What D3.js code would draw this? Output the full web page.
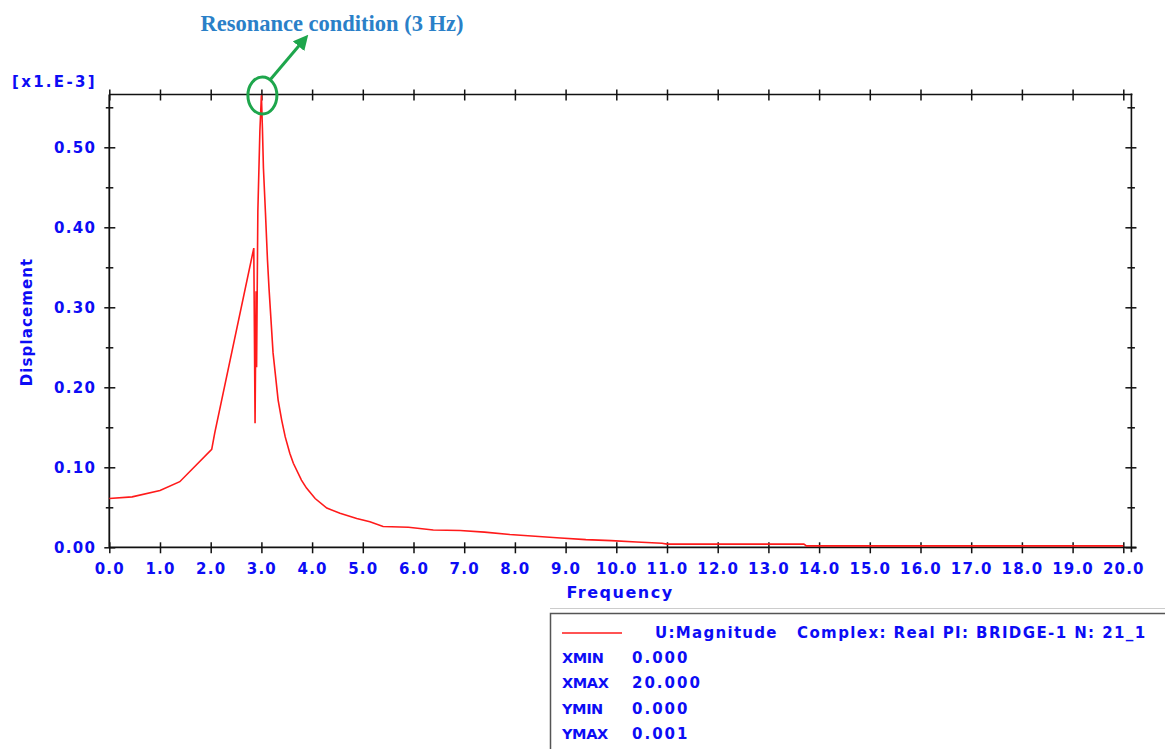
<!DOCTYPE html>
<html>
<head>
<meta charset="utf-8">
<script src="https://cdn.jsdelivr.net/npm/d3@7"></script>
<style>
  html, body { margin: 0; padding: 0; background: #ffffff; }
  svg { display: block; }
  .lbl { font-family: "DejaVu Sans", Verdana, sans-serif; font-weight: bold; fill: #0c0cf5; }
</style>
</head>
<body>
<svg id="chart" width="1165" height="749"></svg>
<script>
// ---------------- data (displacement in x1.E-3 units) ----------------
const frequency = [0, 0.45, 1.0, 1.39, 2.02, 2.08, 2.85, 2.875, 2.895, 2.905, 2.93, 2.97, 3.0,
  3.02, 3.04, 3.08, 3.12, 3.15, 3.23, 3.33, 3.40, 3.47, 3.56, 3.63, 3.79, 3.89, 4.06, 4.29, 4.55,
  4.88, 5.14, 5.40, 5.90, 6.39, 6.92, 7.4, 7.9, 8.4, 8.9, 9.4, 9.9, 10.4, 10.9, 11.0, 13.7, 13.75, 20.0];
const displacement = [0.061, 0.063, 0.071, 0.082, 0.1225, 0.143, 0.374, 0.155, 0.32, 0.225, 0.42, 0.52, 0.565,
  0.524, 0.474, 0.418, 0.359, 0.324, 0.243, 0.184, 0.159, 0.138, 0.1175, 0.105, 0.084, 0.074, 0.061, 0.049, 0.0425,
  0.036, 0.032, 0.026, 0.025, 0.0216, 0.021, 0.019, 0.016, 0.0138, 0.0117, 0.0096, 0.0083, 0.0067, 0.005, 0.004, 0.004, 0.0018, 0.0018];

const xTickValues = d3.range(0, 21, 1);
const yTickValues = [0, 0.1, 0.2, 0.3, 0.4, 0.5];
const yMinorTicks = [0.05, 0.15, 0.25, 0.35, 0.45, 0.55];

const annotationText = "Resonance condition (3 Hz)";
const yUnitText = "[x1.E-3]";
const xTitle = "Frequency";
const yTitle = "Displacement";
const seriesName = "U:Magnitude";
const seriesInfo = "Complex: Real PI: BRIDGE-1 N: 21_1";
const legendKeys = ["XMIN", "XMAX", "YMIN", "YMAX"];
const legendVals = ["0.000", "20.000", "0.000", "0.001"];
const resonanceFreq = 3.0;
const xFrameMax = 20.16;
const yFrameMax = 0.566;

// ---------------- scales ----------------
const x = d3.scaleLinear().domain([0, 20]).range([109.3, 1123.3]);
const y = d3.scaleLinear().domain([0, 0.1]).range([547.3, 467.3]);

const svg = d3.select("#chart");
const pL = x(0), pR = x(xFrameMax), pT = y(yFrameMax), pB = y(0);

// frame
const frame = svg.append("g").attr("stroke", "#111").attr("stroke-width", 1.6).attr("fill", "none");
frame.append("line").attr("x1", pL).attr("x2", pR + 1).attr("y1", pT).attr("y2", pT);
frame.append("line").attr("x1", pR).attr("x2", pR).attr("y1", pT - 1).attr("y2", pB + 5);

// bottom axis
const gx = svg.append("g").attr("transform", `translate(0,${pB})`)
  .call(d3.axisBottom(x).tickValues(xTickValues).tickSize(5).tickPadding(10).tickFormat(d3.format(".1f")));
gx.select(".domain").attr("d", `M${pL},0H${pR + 5}`).attr("stroke", "#111").attr("stroke-width", 1.8);
gx.selectAll(".tick line").attr("y1", -5).attr("y2", 6).attr("stroke", "#111").attr("stroke-width", 1.5);
gx.selectAll(".tick text").attr("class", "lbl").attr("font-size", 15).attr("letter-spacing", 1.2)
  .attr("dy", null).attr("y", 27).attr("fill", null);

// top axis ticks
const gt = svg.append("g").attr("transform", `translate(0,${pT})`)
  .call(d3.axisTop(x).tickValues(xTickValues).tickSize(5).tickFormat(""));
gt.select(".domain").remove();
gt.selectAll(".tick line").attr("y1", -5).attr("y2", 6).attr("stroke", "#111").attr("stroke-width", 1.5);

// left axis
const gy = svg.append("g").attr("transform", `translate(${pL},0)`)
  .call(d3.axisLeft(y).tickValues(yTickValues).tickSize(5).tickPadding(9).tickFormat(d3.format(".2f")));
gy.select(".domain").attr("d", `M0,${pT}V${pB}`).attr("stroke", "#111").attr("stroke-width", 1.8);
gy.selectAll(".tick line").attr("x1", -5).attr("x2", 6).attr("stroke", "#111").attr("stroke-width", 1.5);
gy.selectAll(".tick text").attr("class", "lbl").attr("font-size", 15).attr("letter-spacing", 1.3)
  .attr("fill", null).attr("x", -13).attr("dy", "0.36em");
const gyMinor = svg.append("g").attr("transform", `translate(${pL},0)`)
  .call(d3.axisLeft(y).tickValues(yMinorTicks).tickSize(3).tickFormat(""));
gyMinor.select(".domain").remove();
gyMinor.selectAll(".tick line").attr("x1", -3.5).attr("x2", 4).attr("stroke", "#111").attr("stroke-width", 1.5);

// right axis ticks
const gr = svg.append("g").attr("transform", `translate(${pR},0)`)
  .call(d3.axisRight(y).tickValues(yTickValues).tickSize(5).tickFormat(""));
gr.select(".domain").remove();
gr.selectAll(".tick line").attr("x1", -6).attr("x2", 5).attr("stroke", "#111").attr("stroke-width", 1.5);
const grMinor = svg.append("g").attr("transform", `translate(${pR},0)`)
  .call(d3.axisRight(y).tickValues(yMinorTicks).tickSize(3).tickFormat(""));
grMinor.select(".domain").remove();
grMinor.selectAll(".tick line").attr("x1", -4).attr("x2", 3.5).attr("stroke", "#111").attr("stroke-width", 1.5);

// data line
const pts = frequency.map((f, i) => [f, displacement[i]]);
svg.append("path").datum(pts)
  .attr("fill", "none").attr("stroke", "#ff1a1a").attr("stroke-width", 1.6)
  .attr("d", d3.line().x(d => x(d[0])).y(d => y(d[1])));

// axis titles
svg.append("text").attr("class", "lbl").attr("font-size", 16).attr("letter-spacing", 1.5)
  .attr("x", 620).attr("y", 598).attr("text-anchor", "middle").text(xTitle);
svg.append("text").attr("class", "lbl").attr("font-size", 15).attr("letter-spacing", 1.1)
  .attr("transform", "translate(32,322) rotate(-90)").attr("text-anchor", "middle").text(yTitle);
svg.append("text").attr("class", "lbl").attr("font-size", 15).attr("letter-spacing", 2.3)
  .attr("x", 12).attr("y", 87).text(yUnitText);

// annotation
const cx = x(resonanceFreq), cy = pT + 1;
svg.append("ellipse").attr("cx", cx + 1).attr("cy", cy).attr("rx", 14.5).attr("ry", 18.5)
  .attr("fill", "none").attr("stroke", "#1ea64c").attr("stroke-width", 3);
const defs = svg.append("defs");
defs.append("marker").attr("id", "ah").attr("viewBox", "0 0 10 10").attr("refX", 5).attr("refY", 5)
  .attr("markerWidth", 5).attr("markerHeight", 5).attr("orient", "auto")
  .append("path").attr("d", "M0,0 L10,5 L0,10 z").attr("fill", "#1ea64c");
svg.append("line").attr("x1", cx + 9).attr("y1", cy - 16).attr("x2", cx + 42).attr("y2", cy - 55)
  .attr("stroke", "#1ea64c").attr("stroke-width", 3).attr("marker-end", "url(#ah)");
svg.append("text").attr("x", 332).attr("y", 31).attr("text-anchor", "middle")
  .attr("font-family", "'Liberation Serif', 'Times New Roman', serif").attr("font-weight", "bold")
  .attr("font-size", 22.5).attr("fill", "#2a80c8").text(annotationText);

// legend box
svg.append("line").attr("x1", 550).attr("x2", 1165).attr("y1", 608.5).attr("y2", 608.5)
  .attr("stroke", "#cccccc").attr("stroke-width", 1);
svg.append("rect").attr("x", 550.5).attr("y", 613.5).attr("width", 640).attr("height", 160)
  .attr("fill", "#ffffff").attr("stroke", "#555").attr("stroke-width", 1.5);
svg.append("line").attr("x1", 562).attr("x2", 622).attr("y1", 633).attr("y2", 633)
  .attr("stroke", "#ff1a1a").attr("stroke-width", 1.6);
svg.append("text").attr("class", "lbl").attr("font-size", 15).attr("letter-spacing", 1.3)
  .attr("x", 655).attr("y", 638).text(seriesName);
svg.append("text").attr("class", "lbl").attr("font-size", 15).attr("letter-spacing", 1.4)
  .attr("x", 797).attr("y", 638).text(seriesInfo);
legendKeys.forEach((k, i) => {
  svg.append("text").attr("class", "lbl").attr("font-size", 14.5).attr("letter-spacing", -0.4)
    .attr("x", 562).attr("y", 663 + i * 25.3).text(k);
  svg.append("text").attr("class", "lbl").attr("font-size", 15).attr("letter-spacing", 2)
    .attr("x", 632).attr("y", 663 + i * 25.3).text(legendVals[i]);
});
</script>
</body>
</html>
